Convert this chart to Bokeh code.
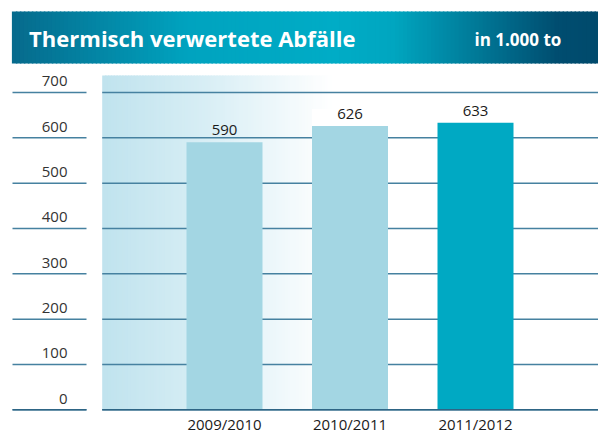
import numpy as np
from bokeh.plotting import figure
from bokeh.models import Range1d
from bokeh.core.properties import value
from bokeh.embed import file_html
from bokeh.resources import INLINE

# ---- data ----
years = ["2009/2010", "2010/2011", "2011/2012"]
amounts = [590, 626, 633]
bar_colors = ["#a3d6e3", "#a3d6e3", "#00a9c3"]
ticks = [0, 100, 200, 300, 400, 500, 600, 700]
title_text = "Thermisch verwertete Abfälle"
unit_text = "in 1.000 to"

FONT = "Open Sans"
W, H = 598, 435

# ---- scales (pixel layout of the frame) ----
PX_PER_CAT = 125.5
PX_PER_UNIT = 0.45333
X0_PX = 224.0           # px of first category centre from left
ZERO_PX = H - 409.3     # px of value 0 from bottom
x_start = -X0_PX / PX_PER_CAT
x_end = x_start + W / PX_PER_CAT
y_start = -ZERO_PX / PX_PER_UNIT
y_end = y_start + H / PX_PER_UNIT

def X(px):
    return x_start + px / PX_PER_CAT

def Y(py_top):
    return y_end - py_top / PX_PER_UNIT

def dx(px):
    return px / PX_PER_CAT

def dy(px):
    return px / PX_PER_UNIT

p = figure(width=W, height=H, output_backend="svg", toolbar_location=None,
           x_range=Range1d(x_start, x_end), y_range=Range1d(y_start, y_end),
           min_border=0, min_border_left=0, min_border_right=0,
           min_border_top=0, min_border_bottom=0)
p.axis.visible = False
p.grid.visible = False
p.outline_line_color = None
p.background_fill_color = "white"
p.border_fill_color = "white"

def interp_color(stops, t):
    for (t0, c0), (t1, c1) in zip(stops[:-1], stops[1:]):
        if t0 <= t <= t1:
            f = 0 if t1 == t0 else (t - t0) / (t1 - t0)
            a = [int(c0[i:i+2], 16) for i in (1, 3, 5)]
            b = [int(c1[i:i+2], 16) for i in (1, 3, 5)]
            c = [round(a[k] + (b[k] - a[k]) * f) for k in range(3)]
            return "#%02x%02x%02x" % tuple(c)
    return stops[-1][1]

# ---- header band with gradient ----
HL, HR = 11.4, W
hdr_stops = [(0.0, "#066a8c"), (0.3, "#00a3bf"), (0.55, "#00acc6"),
             (0.65, "#00a6c0"), (0.93, "#004d70"), (1.0, "#004a6c")]
n = 147
edges = np.linspace(HL, HR, n + 1)
p.quad(left=[X(e) for e in edges[:-1]], right=[X(e + 1.5) for e in edges[1:]],
       top=Y(11), bottom=Y(63),
       fill_color=[interp_color(hdr_stops, (e + 2 - HL) / (HR - HL)) for e in edges[:-1]],
       line_color=None)
p.text(x=[X(28.6)], y=[Y(37)], text=[title_text], text_font=value(FONT),
       text_font_style="bold", text_font_size="22px", text_color="white",
       text_baseline="middle", text_align="left")
p.text(x=[X(474)], y=[Y(39.4)], text=[unit_text], text_font=value(FONT),
       text_font_style="bold", text_font_size="17px", text_color="white",
       text_baseline="middle", text_align="left")

# ---- light gradient panel behind the plot ----
bg_stops = [(0.0, "#c0e3ee"), (0.45, "#d8eef5"), (1.0, "#ffffff")]
gl, gr = 101.7, 330.0
m = 80
ge = np.linspace(gl, gr, m + 1)
p.quad(left=[X(e) for e in ge[:-1]], right=[X(e + 1.5) for e in ge[1:]],
       top=Y(75), bottom=0,
       fill_color=[interp_color(bg_stops, (e - gl) / (gr - gl)) for e in ge[:-1]],
       line_color=None)

# ---- grid lines ----
p.segment(x0=[X(12)] * len(ticks), x1=[X(86)] * len(ticks), y0=ticks, y1=ticks,
          line_color="#4681a0", line_width=1.5)
p.segment(x0=[X(101.7)] * len(ticks), x1=[X(W)] * len(ticks), y0=ticks, y1=ticks,
          line_color="#4681a0", line_width=1.5)

# tick labels
p.text(x=[X(67)] * len(ticks), y=[t + dy(11) for t in ticks], text=[str(t) for t in ticks],
       text_font=value(FONT), text_font_size="15px", text_color="#333333",
       text_align="right", text_baseline="middle")

# ---- bars ----
xs = list(range(len(years)))
# white label boxes above later bars
p.quad(left=[x - dx(38) for x in xs[1:]], right=[x + dx(38) for x in xs[1:]],
       bottom=amounts[1:], top=[a + dy(17) for a in amounts[1:]],
       fill_color="white", line_color=None)
p.vbar(x=xs, top=amounts, bottom=0, width=dx(76), fill_color=bar_colors, line_color=None)

# base line
p.segment(x0=[X(101.7)], x1=[X(W)], y0=[0], y1=[0], line_color="#2e6585", line_width=1.5)
p.segment(x0=[X(12)], x1=[X(86)], y0=[0], y1=[0], line_color="#2e6585", line_width=1.5)

# value labels
p.text(x=xs, y=[a + dy(12) for a in amounts], text=[str(a) for a in amounts],
       text_font=value(FONT), text_font_size="15px", text_color="#1a1a1a",
       text_align="center", text_baseline="middle")
# category labels
p.text(x=xs, y=[-dy(14.5)] * len(xs), text=years,
       text_font=value(FONT), text_font_size="15px", text_color="#1a1a1a",
       text_align="center", text_baseline="middle")

open("out.html", "w").write(file_html(p, INLINE))
